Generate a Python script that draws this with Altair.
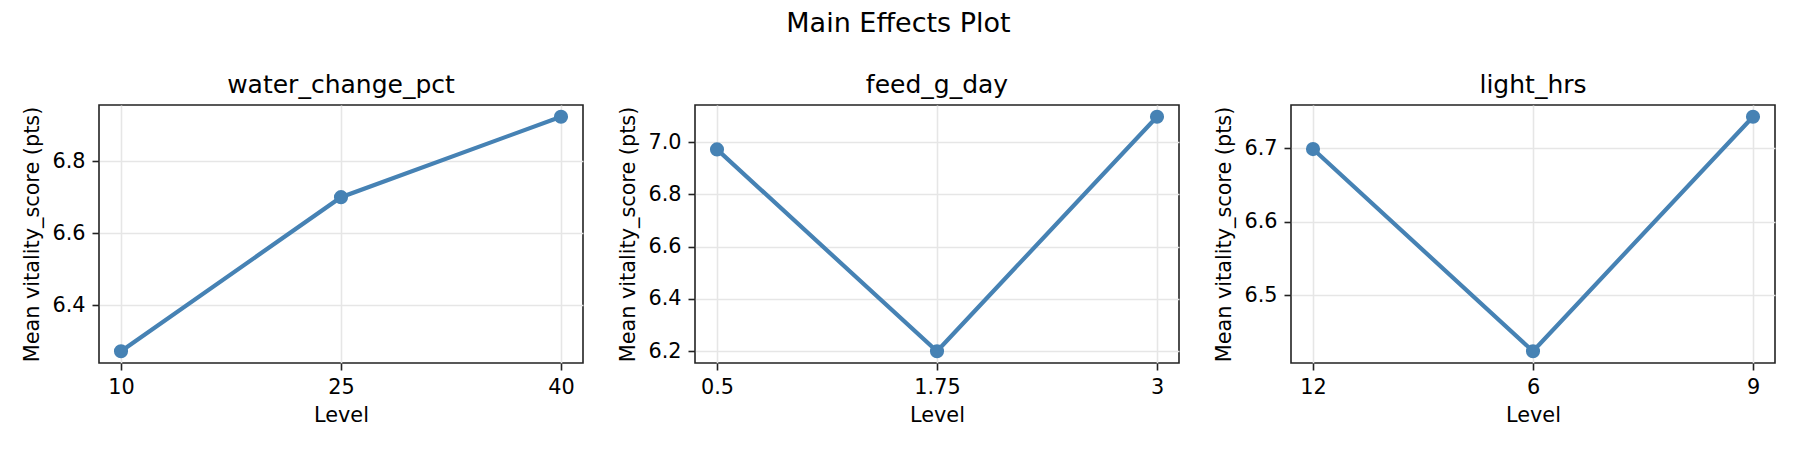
import altair as alt
import pandas as pd

# main effects: one panel per factor
factors = ["water_change_pct", "feed_g_day", "light_hrs"]
levels = [
    ["10", "25", "40"],
    ["0.5", "1.75", "3"],
    ["12", "6", "9"],
]
means = [
    [6.273, 6.700, 6.923],
    [6.972, 6.200, 7.097],
    [6.699, 6.424, 6.743],
]
y_ticks = [
    [6.4, 6.6, 6.8],
    [6.2, 6.4, 6.6, 6.8, 7.0],
    [6.5, 6.6, 6.7],
]

FONT = "DejaVu Sans"
BLUE = "#4682b4"


def panel(name, lv, vals, ticks):
    df = pd.DataFrame({"level": lv, "mean": vals})
    span = max(vals) - min(vals)
    lo = min(vals) - 0.05 * span
    hi = max(vals) + 0.05 * span

    x = alt.X(
        "level:O",
        sort=lv,
        title="Level",
        scale=alt.Scale(type="point", padding=0.1),
        axis=alt.Axis(labelAngle=0),
    )
    y = alt.Y(
        "mean:Q",
        title="Mean vitality_score (pts)",
        scale=alt.Scale(domain=[lo, hi], nice=False, zero=False),
        axis=alt.Axis(values=ticks, format=".1f"),
    )

    base = alt.Chart(df).encode(x=x, y=y)
    line = base.mark_line(color=BLUE, strokeWidth=4.2)
    dots = base.mark_circle(color=BLUE, size=200, opacity=1)

    return (line + dots).properties(
        width=484,
        height=258,
        title=alt.TitleParams(
            name, font=FONT, fontSize=25, fontWeight="normal",
            color="black", baseline="alphabetic", offset=-13,
        ),
    )


panels = [panel(f, l, m, t) for f, l, m, t in zip(factors, levels, means, y_ticks)]

chart = alt.hconcat(*panels, spacing=112, bounds="flush").properties(
    title=alt.TitleParams(
        "Main Effects Plot", font=FONT, fontSize=27, fontWeight="normal",
        color="black", anchor="middle", baseline="alphabetic", offset=13,
    ),
    padding={"left": 13, "top": 2, "right": 0, "bottom": 0},
).configure_view(
    stroke="#222222", strokeWidth=1.6
).configure_axis(
    labelFont=FONT, titleFont=FONT,
    labelFontSize=20.8, titleFontSize=20.8,
    titleFontWeight="normal",
    labelColor="black", titleColor="black",
    domain=False,
    tickColor="#222222", tickWidth=1.6, tickSize=7,
    labelPadding=7, titlePadding=9,
    grid=True, gridColor="#e6e6e6", gridWidth=1.6,
)

chart.save("out.html", embed_options={"renderer": "svg", "actions": False})
